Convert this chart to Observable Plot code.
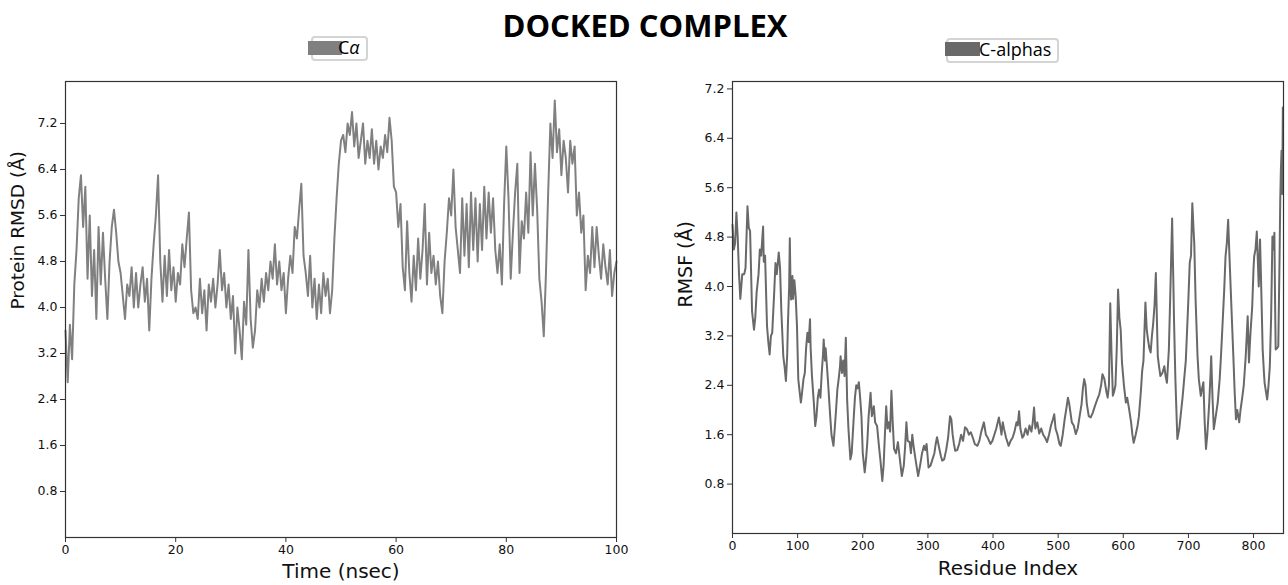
<!DOCTYPE html>
<html>
<head>
<meta charset="utf-8">
<script src="https://cdn.jsdelivr.net/npm/d3@7"></script>
<script src="https://cdn.jsdelivr.net/npm/@observablehq/plot@0.6"></script>
<style>
  html, body { margin: 0; padding: 0; background: #fff; }
  #wrap { position: relative; width: 1288px; height: 585px; overflow: hidden; background: #fff; }
  #title { position: absolute; left: 0; width: 1290px; top: 4px; text-align: center;
           font-family: "Open Sans", sans-serif; font-weight: 700; font-size: 31px; color: #000; }
  .lgbox { position: absolute; border: 2px solid #d4d4d4; border-radius: 4px; background: #fff; box-sizing: border-box; z-index: 2; }
  .lgpatch { position: absolute; z-index: 3; }
  .lgtext { position: absolute; font-family: "Open Sans", sans-serif; font-size: 18px; color: #000; line-height: 1; z-index: 3; }
  .panel { position: absolute; top: 60px; z-index: 1; }
</style>
</head>
<body>
<div id="wrap">
  <div id="title">DOCKED COMPLEX</div>
  <div class="lgbox" style="left:311px;top:36px;width:57px;height:25px;"></div>
  <div class="lgpatch" style="left:308px;top:41px;width:34px;height:14px;background:#808080;"></div>
  <div class="lgtext" style="left:338px;top:38px;">C<i>α</i></div>
  <div class="lgbox" style="left:946px;top:38px;width:113px;height:25px;"></div>
  <div class="lgpatch" style="left:945px;top:42px;width:35px;height:14px;background:#696969;"></div>
  <div class="lgtext" style="left:979px;top:40px;">C-alphas</div>
  <div id="left" class="panel" style="left:0px;"></div>
  <div id="right" class="panel" style="left:644px;"></div>
</div>
<script>
// ---- Data ----
const rmsdStep = 0.4; // ns between samples (0 .. 100 ns)
const rmsdValues = [
  3.6, 2.7, 3.7, 3.1, 4.4, 5.0, 5.9, 6.3, 5.4, 6.1,
  4.5, 5.6, 4.2, 5.0, 3.8, 5.4, 4.4, 5.3, 4.5, 3.8,
  4.8, 5.4, 5.7, 5.3, 4.8, 4.6, 4.2, 3.8, 4.4, 4.2,
  4.7, 4.0, 4.6, 4.0, 4.4, 4.7, 4.1, 4.5, 3.6, 4.5,
  5.1, 5.6, 6.3, 4.8, 4.1, 4.9, 4.2, 5.0, 4.3, 4.7,
  4.1, 4.6, 4.4, 5.1, 4.7, 5.2, 5.65, 4.3, 3.9, 4.0,
  3.8, 4.5, 3.9, 4.3, 3.6, 4.4, 4.1, 4.5, 4.0, 4.4,
  5.0, 4.3, 4.6, 4.0, 4.4, 3.8, 4.2, 3.2, 4.0, 3.6,
  3.1, 4.1, 3.7, 5.0, 3.8, 3.3, 3.6, 4.3, 4.0, 4.5,
  4.1, 4.6, 4.3, 4.8, 4.5, 5.1, 4.4, 4.8, 4.3, 4.6,
  3.9, 4.5, 4.9, 4.6, 5.4, 5.2, 5.7, 6.15, 4.9, 4.6,
  4.2, 4.9, 4.0, 4.5, 3.8, 4.4, 3.9, 4.6, 4.2, 4.5,
  3.9, 4.3, 5.2, 5.9, 6.5, 6.9, 7.0, 6.7, 7.2, 7.0,
  7.4, 6.8, 7.2, 6.6, 6.9, 7.2, 6.5, 6.9, 6.6, 7.1,
  6.5, 6.9, 6.4, 6.8, 6.6, 7.0, 6.7, 7.3, 6.9, 6.1,
  6.0, 5.4, 5.8, 4.7, 4.3, 5.5, 4.6, 4.1, 4.9, 4.3,
  5.2, 4.5, 5.0, 5.8, 4.4, 5.3, 4.6, 4.9, 4.4, 4.8,
  4.2, 3.9, 4.8, 5.3, 5.9, 5.6, 6.4, 5.4, 5.0, 4.6,
  5.9, 4.9, 5.8, 4.7, 6.0, 5.0, 5.9, 4.8, 5.8, 5.0,
  6.1, 5.2, 6.0, 5.3, 5.9, 5.0, 4.6, 5.1, 4.4, 5.8,
  6.8, 5.9, 4.5, 5.3, 6.0, 6.5, 4.6, 5.5, 5.2, 6.0,
  5.3, 6.7, 5.6, 6.5, 5.7, 4.5, 4.1, 3.5, 4.6, 6.0,
  7.2, 6.6, 7.6, 6.7, 7.1, 6.3, 6.9, 6.6, 6.0, 6.9,
  6.5, 6.8, 5.6, 6.0, 5.3, 5.6, 4.3, 4.9, 4.6, 5.4,
  4.7, 5.4, 4.9, 4.5, 5.1, 4.7, 4.4, 5.0, 4.2, 4.6,
  4.8
];

const rmsfResidue = [
  0,2,4,6,8,10,12,15,18,20,23,25,27,30,33,35,37,40,42,44,47,48,50,53,55,57,59,61,64,66,68,71,73,75,78,80,82,84,85,87,88,89,90,92,93,95,97,99,
  101,103,105,107,109,111,113,115,117,119,120,122,125,127,129,131,133,135,137,139,140,142,143,145,147,150,152,155,157,159,161,163,165,166,168,170,172,174,176,178,181,183,186,188,190,192,194,196,198,
  200,203,205,207,209,212,214,217,219,222,225,227,230,232,234,236,238,240,242,244,246,248,251,254,257,260,263,265,267,269,272,274,276,278,281,285,288,291,294,296,298,
  301,304,307,310,312,314,317,320,322,325,328,331,334,336,338,340,342,345,348,351,354,357,360,363,366,369,372,376,379,382,386,389,392,396,399,
  402,405,409,411,413,415,417,420,424,427,430,433,436,438,440,442,445,447,450,453,456,459,461,463,465,468,471,474,477,480,483,486,489,492,494,496,499,
  502,504,507,510,513,515,517,519,521,524,527,530,533,536,538,540,542,544,547,550,553,556,560,563,566,568,571,574,576,578,580,582,584,586,588,590,592,594,596,598,
  601,604,606,609,612,614,616,619,622,624,627,629,631,634,636,638,640,642,644,646,648,650,652,653,655,657,660,663,665,667,670,672,675,677,678,680,683,686,688,691,693,696,698,
  700,702,704,706,708,709,711,714,716,719,721,723,725,727,729,732,734,735,737,739,742,745,748,750,752,755,757,759,761,763,765,767,769,771,773,775,778,780,783,785,788,790,791,793,795,798,
  800,801,803,805,807,808,810,812,814,816,817,819,821,823,825,827,829,831,832,833,834,836,838,840,841,842,843,844,845
];
const rmsfValues = [
  5.0,4.6,4.7,5.2,4.8,4.2,3.8,4.2,4.2,4.3,5.3,4.95,4.9,3.6,3.3,3.5,3.9,4.2,4.6,4.5,4.97,4.4,4.5,3.36,3.1,2.9,3.2,3.25,3.9,4.38,4.2,4.55,4.3,3.6,2.87,2.7,2.47,2.9,3.36,4.0,4.78,4.1,3.79,4.17,3.8,4.1,3.84,3.36,
  2.5,2.3,2.12,2.3,2.5,2.6,3.0,3.25,3.1,3.47,3.0,2.55,2.1,1.74,1.9,2.2,2.33,2.2,2.6,2.9,3.14,2.8,3.0,2.71,2.4,1.9,1.6,1.42,1.7,2.0,2.33,2.5,2.7,2.87,2.6,2.8,2.55,3.17,2.17,1.7,1.2,1.3,1.85,2.2,2.4,2.35,2.45,2.2,1.9,
  1.3,0.99,1.2,1.48,1.9,2.28,1.9,2.06,1.8,1.74,1.4,1.2,0.85,1.1,1.6,2.06,1.7,1.8,1.65,2.31,1.8,1.37,1.3,1.48,1.2,0.93,1.1,1.4,1.8,1.5,1.48,1.3,1.6,1.42,1.2,0.93,1.1,1.3,1.42,1.35,1.45,
  1.07,1.1,1.2,1.3,1.45,1.56,1.4,1.25,1.18,1.2,1.35,1.55,1.9,1.85,1.6,1.45,1.34,1.35,1.45,1.6,1.5,1.72,1.69,1.6,1.64,1.55,1.45,1.42,1.5,1.65,1.8,1.6,1.55,1.45,1.5,
  1.6,1.7,1.88,1.75,1.6,1.8,1.69,1.55,1.42,1.5,1.55,1.65,1.8,1.75,1.98,1.7,1.55,1.58,1.7,1.6,1.75,1.65,1.8,2.04,1.7,1.8,1.62,1.7,1.6,1.55,1.48,1.6,1.75,1.85,1.93,1.7,1.6,
  1.45,1.42,1.6,1.85,2.05,2.2,2.1,1.95,1.8,1.75,1.61,1.7,1.9,2.1,2.35,2.5,2.4,2.1,1.9,1.88,1.95,2.05,2.17,2.25,2.4,2.58,2.5,2.3,2.2,2.4,3.73,2.9,2.23,2.3,2.4,3.0,3.95,3.5,3.3,2.77,
  2.4,2.12,2.2,2.01,1.8,1.6,1.47,1.6,1.75,1.9,2.3,2.63,2.8,3.74,3.3,3.14,3.0,2.93,3.2,3.41,3.7,4.22,3.3,2.87,2.7,2.55,2.6,2.71,2.55,2.44,2.98,3.8,5.1,4.0,3.41,2.5,1.53,1.7,1.9,2.2,2.44,2.8,3.3,
  3.8,4.38,4.5,5.35,4.9,4.7,3.8,2.87,2.5,2.23,2.35,2.45,1.8,1.37,1.6,2.12,2.6,2.87,2.2,1.69,1.9,2.12,2.5,2.87,3.3,3.95,4.49,4.7,5.08,4.5,3.95,3.4,2.87,2.3,1.85,2.0,1.8,2.0,2.23,2.4,2.87,3.3,3.52,2.77,3.2,3.68,
  4.3,4.49,4.6,4.89,4.3,4.0,4.76,3.9,2.98,2.6,2.44,2.3,2.17,2.4,2.71,3.5,4.81,4.6,4.87,3.8,2.98,3.0,3.03,4.5,5.4,5.9,6.2,5.5,6.9
];

const yTicks = [0.8, 1.6, 2.4, 3.2, 4.0, 4.8, 5.6, 6.4, 7.2];
const timeTicks = [0, 20, 40, 60, 80, 100];
const residueTicks = [0, 100, 200, 300, 400, 500, 600, 700, 800];

// ---- Tables ----
const rmsd = rmsdValues.map((v, i) => ({t: i * rmsdStep, v}));
const rmsf = rmsfValues.map((v, i) => ({r: rmsfResidue[i], v}));

const baseStyle = {fontFamily: "DejaVu Sans, sans-serif", fontSize: "12.5px", color: "#111", background: "white", overflow: "visible"};
const fmt = d => d.toFixed(1);

const left = Plot.plot({
  width: 644, height: 525,
  marginLeft: 65, marginRight: 28, marginTop: 21, marginBottom: 48,
  style: baseStyle,
  x: {domain: [0, 100]},
  y: {domain: [0, 7.93]},
  marks: [
    Plot.axisX({ticks: timeTicks, tickSize: 5, tickPadding: 3, label: null, stroke: "#333"}),
    Plot.axisY({ticks: yTicks, tickFormat: fmt, tickSize: 5, tickPadding: 3, label: null, stroke: "#333"}),
    Plot.line(rmsd, {x: "t", y: "v", stroke: "#808080", strokeWidth: 2}),
    Plot.frame({stroke: "#333", strokeWidth: 1.2}),
    Plot.text(["Time (nsec)"], {text: d => d, frameAnchor: "bottom", dy: 40, fontSize: 20, fill: "#111"}),
    Plot.text(["Protein RMSD (Å)"], {text: d => d, frameAnchor: "left", dx: -47, rotate: -90, fontSize: 18.5, fill: "#111"})
  ]
});
document.getElementById("left").append(left);

const right = Plot.plot({
  width: 644, height: 525,
  marginLeft: 88, marginRight: 5, marginTop: 21, marginBottom: 52,
  style: baseStyle,
  x: {domain: [0, 846]},
  y: {domain: [0, 7.32]},
  marks: [
    Plot.axisX({ticks: residueTicks, tickSize: 5, tickPadding: 3, label: null, stroke: "#333"}),
    Plot.axisY({ticks: yTicks, tickFormat: fmt, tickSize: 5, tickPadding: 3, label: null, stroke: "#333"}),
    Plot.line(rmsf, {x: "r", y: "v", stroke: "#696969", strokeWidth: 2}),
    Plot.frame({stroke: "#333", strokeWidth: 1.2}),
    Plot.text(["Residue Index"], {text: d => d, frameAnchor: "bottom", dy: 41, fontSize: 20, fill: "#111"}),
    Plot.text(["RMSF (Å)"], {text: d => d, frameAnchor: "left", dx: -47, rotate: -90, fontSize: 19, fill: "#111"})
  ]
});
document.getElementById("right").append(right);
</script>
</body>
</html>
